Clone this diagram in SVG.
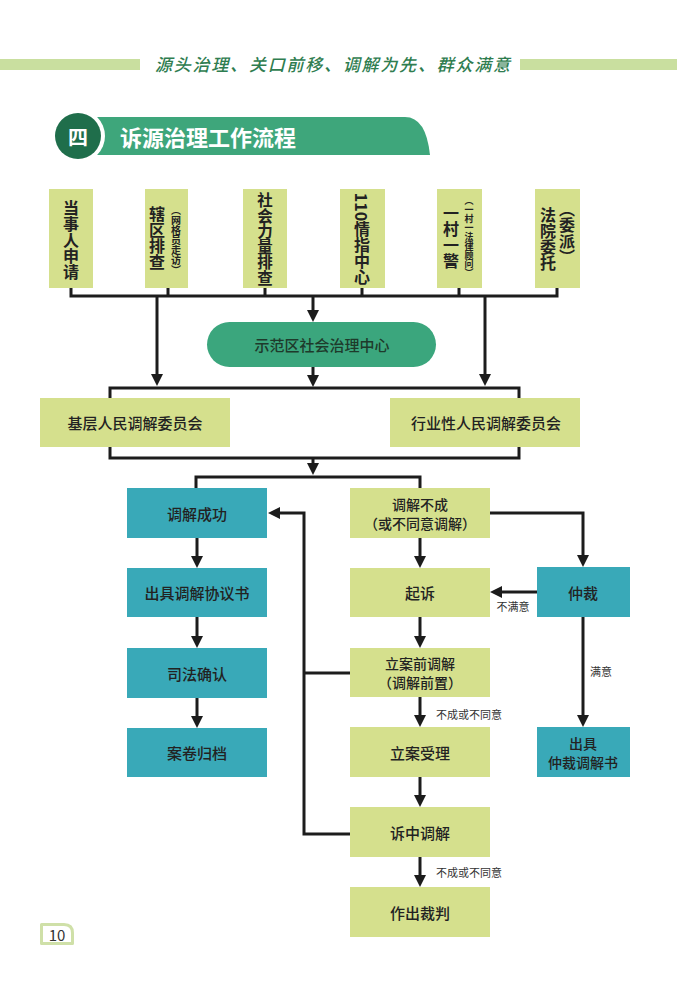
<svg xmlns="http://www.w3.org/2000/svg" width="677" height="988" viewBox="0 0 677 988">
<defs>
<marker id="ah" viewBox="0 0 12 12" refX="8" refY="6" markerWidth="12" markerHeight="12" markerUnits="userSpaceOnUse" orient="auto">
<path d="M0,0 L12,6 L0,12 Z" fill="#1c1c1c"/>
</marker>
<style>
text{font-family:"Noto Sans CJK SC","Liberation Sans",sans-serif;fill:#222;}
.lg{fill:#d5e08d;}
.tl{fill:#39a9b8;}
.bt{font-size:15px;font-weight:500;text-anchor:middle;dominant-baseline:central;}
.b2{font-size:14px;font-weight:500;text-anchor:middle;dominant-baseline:central;}
.vt{writing-mode:vertical-rl;text-anchor:middle;font-size:16px;font-weight:bold;}
.vs{writing-mode:vertical-rl;text-anchor:middle;font-size:10px;font-weight:bold;}
.lb{font-size:11px;text-anchor:middle;fill:#333;}
.cn{fill:none;stroke:#1c1c1c;stroke-width:3;}
.ca{fill:none;stroke:#1c1c1c;stroke-width:3;marker-end:url(#ah);}
</style>
</defs>
<rect width="677" height="988" fill="#ffffff"/>

<g id="header">
<rect x="0" y="59" width="140" height="11" fill="#c9df9f"/>
<rect x="520" y="59" width="157" height="11" fill="#c9df9f"/>
<text x="155" y="71" font-size="17" font-style="italic" font-weight="500" textLength="355" lengthAdjust="spacing" style="fill:#2f7d50;">源头治理、关口前移、调解为先、群众满意</text>
</g>

<g id="title">
<path d="M95,117 H405 Q426,117 430,155 H95 Z" fill="#3ea67b"/>
<circle cx="78" cy="136" r="27" fill="#ffffff"/>
<circle cx="78" cy="136" r="23" fill="#1f6e4b"/>
<text x="78" y="136" font-size="20" font-weight="bold" text-anchor="middle" dominant-baseline="central" style="fill:#ffffff;">四</text>
<text x="120" y="136" font-size="22" font-weight="bold" dominant-baseline="central" style="fill:#ffffff;">诉源治理工作流程</text>
</g>

<g id="src1"><rect class="lg" x="49" y="189" width="44" height="99"/><text class="vt" x="71" y="240">当事人申请</text></g>
<g id="src2"><rect class="lg" x="145" y="189" width="43" height="99"/><text class="vt" x="157" y="238">辖区排查</text><text class="vs" x="176" y="240">（网格员走访）</text></g>
<g id="src3"><rect class="lg" x="243" y="189" width="44" height="99"/><text class="vt" x="265" y="239" style="font-size:15.5px">社会力量排查</text></g>
<g id="src4"><rect class="lg" x="340" y="189" width="45" height="99"/><text class="vt" x="362" y="239">110情指中心</text></g>
<g id="src5"><rect class="lg" x="437" y="189" width="45" height="99"/><text class="vt" x="451" y="237">一村一警</text><text class="vs" x="469" y="237" style="font-size:9px">（一村一法律顾问）</text></g>
<g id="src6"><rect class="lg" x="535" y="189" width="45" height="99"/><text class="vt" x="548" y="239">法院委托</text><text class="vt" x="567" y="233">（委派）</text></g>

<g id="center"><rect x="207" y="322" width="229" height="45" rx="22.5" fill="#3ba67d"/><text class="bt" x="322" y="344.5" style="fill:#1e3a2b">示范区社会治理中心</text></g>

<g id="jiceng"><rect class="lg" x="40" y="398" width="190" height="49"/><text class="bt" x="135" y="422.5">基层人民调解委员会</text></g>
<g id="hangye"><rect class="lg" x="390" y="398" width="190" height="49"/><text class="bt" x="486" y="422.5">行业性人民调解委员会</text></g>

<g id="success"><rect class="tl" x="127" y="488" width="140" height="50"/><text class="bt" x="197" y="513">调解成功</text></g>
<g id="agreement"><rect class="tl" x="127" y="568" width="140" height="49"/><text class="bt" x="197" y="592.5">出具调解协议书</text></g>
<g id="confirm"><rect class="tl" x="127" y="648" width="140" height="50"/><text class="bt" x="197" y="673">司法确认</text></g>
<g id="archive"><rect class="tl" x="127" y="728" width="140" height="49"/><text class="bt" x="197" y="752.5">案卷归档</text></g>

<g id="fail"><rect class="lg" x="350" y="488" width="140" height="50"/><text class="b2" x="420" y="503.5">调解不成</text><text class="b2" x="420" y="522.5">（或不同意调解）</text></g>
<g id="sue"><rect class="lg" x="350" y="568" width="140" height="49"/><text class="bt" x="420" y="592.5">起诉</text></g>
<g id="pre"><rect class="lg" x="350" y="648" width="140" height="49"/><text class="b2" x="420" y="663">立案前调解</text><text class="b2" x="420" y="682">（调解前置）</text></g>
<g id="accept"><rect class="lg" x="350" y="727" width="140" height="50"/><text class="bt" x="420" y="752">立案受理</text></g>
<g id="midmed"><rect class="lg" x="350" y="807" width="140" height="50"/><text class="bt" x="420" y="832">诉中调解</text></g>
<g id="judge"><rect class="lg" x="350" y="887" width="140" height="50"/><text class="bt" x="420" y="912">作出裁判</text></g>

<g id="arbit"><rect class="tl" x="537" y="567" width="93" height="50"/><text class="bt" x="583" y="592">仲裁</text></g>
<g id="arbdoc"><rect class="tl" x="537" y="727" width="93" height="50"/><text class="b2" x="583" y="742.5">出具</text><text class="b2" x="583" y="761.5">仲裁调解书</text></g>

<g id="connectors">
<path class="cn" d="M71,288 V296 M168,288 V296 M265,288 V296 M362,288 V296 M459,288 V296 M557,288 V296 M69.5,296 H558.5"/>
<path class="ca" d="M157,296 V382"/>
<path class="ca" d="M485,296 V382"/>
<path class="ca" d="M313,296 V318"/>
<path class="ca" d="M313,367 V383"/>
<path class="cn" d="M110,398 V388 H519 V398"/>
<path class="cn" d="M110,447 V458 H519 V447"/>
<path class="ca" d="M313,458 V471"/>
<path class="cn" d="M196,488 V477 H420 V488"/>
<path class="ca" d="M197,538 V564"/>
<path class="ca" d="M197,617 V644"/>
<path class="ca" d="M197,698 V724"/>
<path class="ca" d="M420,538 V564"/>
<path class="ca" d="M420,617 V644"/>
<path class="ca" d="M420,697 V723"/>
<path class="ca" d="M420,777 V803"/>
<path class="ca" d="M420,857 V883"/>
<path class="ca" d="M490,513 H583 V563"/>
<path class="ca" d="M537,592 H494"/>
<path class="ca" d="M583,617 V723"/>
<path class="ca" d="M350,834 H304 V513 H272"/>
<path class="cn" d="M350,673 H304"/>
<text class="lb" x="513" y="611">不满意</text>
<text class="lb" x="601" y="676">满意</text>
<text class="lb" x="469" y="719">不成或不同意</text>
<text class="lb" x="469" y="877">不成或不同意</text>
</g>

<g id="page">
<path d="M41.5,924.5 H64 Q72.5,924.5 72.5,933 V943.5 H41.5 Z" fill="#ffffff" stroke="#cfe0a8" stroke-width="3" stroke-linejoin="round"/>
<text x="57" y="934.5" font-size="15" text-anchor="middle" dominant-baseline="central" style="fill:#333">10</text>
</g>
</svg>
